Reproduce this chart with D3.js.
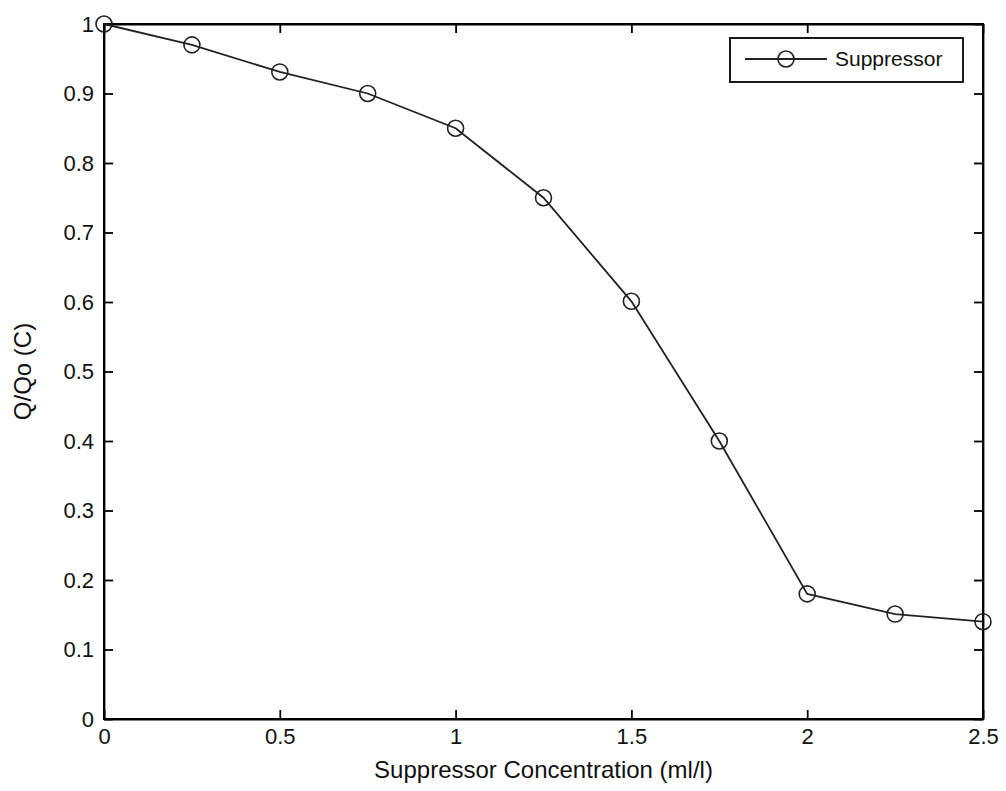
<!DOCTYPE html>
<html>
<head>
<meta charset="utf-8">
<script src="https://cdn.jsdelivr.net/npm/d3@7"></script>
<style>
  body { margin: 0; background: #fff; }
  text { font-family: "Liberation Sans", Arial, sans-serif; fill: #111; }
  .axis path, .axis line { stroke: #000; }
</style>
</head>
<body>
<div id="chart"></div>
<script>
// data
const conc = [0, 0.25, 0.5, 0.75, 1, 1.25, 1.5, 1.75, 2, 2.25, 2.5];
const ratio = [1.0, 0.97, 0.931, 0.90, 0.85, 0.75, 0.601, 0.40, 0.18, 0.151, 0.14];
const xTicks = [0, 0.5, 1, 1.5, 2, 2.5];
const yTicks = [0, 0.1, 0.2, 0.3, 0.4, 0.5, 0.6, 0.7, 0.8, 0.9, 1];
const seriesName = 'Suppressor';

const W = 1006, H = 791;
const margin = { top: 24, right: 23, bottom: 72, left: 104 };
const pw = W - margin.left - margin.right;
const ph = H - margin.top - margin.bottom;

let svg = d3.select('#chart').append('svg')
  .attr('width', W).attr('height', H);

let plot = svg.append('g').attr('transform', `translate(${margin.left},${margin.top})`);

let x = d3.scaleLinear().domain([0, 2.5]).range([0, pw]);
let y = d3.scaleLinear().domain([0, 1]).range([ph, 0]);

const fmt = d => String(d);

// bottom + left axes with labels, inward ticks
plot.append('g').attr('class', 'axis').attr('transform', `translate(0,${ph})`)
  .call(d3.axisBottom(x).tickValues(xTicks).tickFormat(fmt).tickSizeInner(-9).tickSizeOuter(0).tickPadding(9));
plot.append('g').attr('class', 'axis')
  .call(d3.axisLeft(y).tickValues(yTicks).tickFormat(fmt).tickSizeInner(-9).tickSizeOuter(0).tickPadding(10));
// top + right mirrored ticks
plot.append('g').attr('class', 'axis')
  .call(d3.axisTop(x).tickValues(xTicks).tickFormat('').tickSizeInner(-9).tickSizeOuter(0));
plot.append('g').attr('class', 'axis').attr('transform', `translate(${pw},0)`)
  .call(d3.axisRight(y).tickValues(yTicks).tickFormat('').tickSizeInner(-9).tickSizeOuter(0));

plot.selectAll('.axis text').style('font-size', '22px').style('font-family', '"Liberation Sans", Arial, sans-serif');
plot.selectAll('.axis path, .axis line').attr('stroke-width', 1.8);

// box
plot.append('rect').attr('width', pw).attr('height', ph)
  .attr('fill', 'none').attr('stroke', '#000').attr('stroke-width', 2);

let pts = conc.map((c, i) => [c, ratio[i]]);
let line = d3.line().x(d => x(d[0])).y(d => y(d[1]));

plot.append('path').datum(pts)
  .attr('d', line).attr('fill', 'none').attr('stroke', '#222').attr('stroke-width', 1.8);

plot.selectAll('circle.pt').data(pts).join('circle')
  .attr('class', 'pt')
  .attr('cx', d => x(d[0])).attr('cy', d => y(d[1])).attr('r', 8)
  .attr('fill', 'none').attr('stroke', '#222').attr('stroke-width', 1.6);

// legend
let lg = svg.append('g').attr('transform', 'translate(730,38)');
lg.append('rect').attr('width', 233).attr('height', 44)
  .attr('fill', '#fff').attr('stroke', '#000').attr('stroke-width', 1.8);
lg.append('line').attr('x1', 15).attr('x2', 97).attr('y1', 21).attr('y2', 21)
  .attr('stroke', '#222').attr('stroke-width', 1.8);
lg.append('circle').attr('cx', 56).attr('cy', 21).attr('r', 8)
  .attr('fill', 'none').attr('stroke', '#222').attr('stroke-width', 1.6);
lg.append('text').attr('x', 105).attr('y', 28).style('font-size', '21px').text(seriesName);

// axis titles
svg.append('text').attr('x', margin.left + pw / 2).attr('y', 778)
  .attr('text-anchor', 'middle').style('font-size', '24px')
  .text('Suppressor Concentration (ml/l)');
svg.append('text').attr('transform', `translate(31,${margin.top + ph / 2}) rotate(-90)`)
  .attr('text-anchor', 'middle').style('font-size', '24px')
  .text('Q/Qo (C)');
</script>
</body>
</html>
